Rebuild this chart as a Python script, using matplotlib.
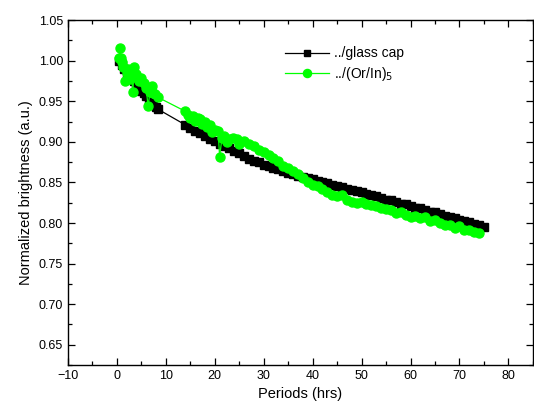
import matplotlib
matplotlib.use("Agg")
import matplotlib.pyplot as plt
from matplotlib.ticker import MultipleLocator

plt.rcParams["font.family"] = ["Liberation Sans", "DejaVu Sans"]

# ../glass cap  (black squares)
glass_t = [0.5, 1.0, 1.5, 2.0, 2.5, 3.0, 3.5, 4.0, 4.5, 5.0, 5.5, 6.0, 6.5, 7.0, 7.5, 8.0, 8.5,
           14, 15, 16, 17, 18, 19, 20, 21, 22, 23, 24, 25, 26, 27, 28, 29, 30,
           31, 32, 33, 34, 35, 36, 37, 38, 39, 40, 41, 42, 43, 44, 45, 46, 47, 48, 49, 50,
           51, 52, 53, 54, 55, 56, 57, 58, 59, 60, 61, 62, 63, 64, 65, 66, 67, 68, 69, 70,
           71, 72, 73, 74, 75]
glass_b = [1.000, 0.995, 0.990, 0.985, 0.982, 0.978, 0.975, 0.970, 0.967, 0.963, 0.960, 0.956,
           0.953, 0.950, 0.947, 0.943, 0.940,
           0.921, 0.917, 0.914, 0.911, 0.907, 0.904, 0.901, 0.898, 0.895, 0.892, 0.889, 0.886,
           0.883, 0.879, 0.877, 0.875, 0.872,
           0.870, 0.868, 0.866, 0.864, 0.862, 0.860, 0.858, 0.857, 0.855, 0.854, 0.852, 0.850,
           0.849, 0.847, 0.846, 0.844, 0.842, 0.841, 0.839, 0.838,
           0.836, 0.834, 0.833, 0.831, 0.829, 0.828, 0.826, 0.824, 0.823, 0.821, 0.819, 0.818,
           0.816, 0.814, 0.813, 0.811, 0.809, 0.808, 0.806, 0.804,
           0.802, 0.801, 0.799, 0.797, 0.795]

# ../(Or/In)5  (green circles)
orin_t = [0.5, 0.6, 0.8, 1.0, 1.3, 1.6, 2.0, 2.3, 2.6, 3.0, 3.3, 3.5, 4.0, 4.5, 5.0, 5.5, 6.0,
          6.4, 6.8, 7.1, 7.5, 7.8, 8.4,
          13.9, 14.5, 15.0, 15.5, 16.0, 16.5, 17.0, 17.5, 18.0, 18.5, 19.0, 19.5, 20.0, 20.7,
          21.0, 21.5, 22.0, 22.5, 23.0, 23.7, 24.5, 25, 26, 27, 28, 29, 30,
          31, 32, 33, 34, 35, 36, 37, 38, 39, 40, 41, 42, 43, 44, 45, 46, 47, 48, 49, 50,
          51, 52, 53, 54, 55, 56, 57, 58, 59, 60, 61, 62, 63, 64, 65, 66, 67, 68, 69, 70,
          71, 72, 73, 74]
orin_b = [1.003, 1.016, 1.004, 0.998, 0.992, 0.975, 0.985, 0.990, 0.978, 0.985, 0.961, 0.992,
          0.984, 0.975, 0.979, 0.972, 0.966, 0.944, 0.962, 0.969, 0.960, 0.959, 0.955,
          0.938, 0.933, 0.930, 0.932, 0.926, 0.929, 0.928, 0.922, 0.925, 0.918, 0.921, 0.912,
          0.915, 0.913, 0.882, 0.905, 0.907, 0.900, 0.903, 0.905, 0.903, 0.898, 0.901, 0.897,
          0.895, 0.890, 0.887,
          0.884, 0.880, 0.876, 0.870, 0.868, 0.864, 0.860, 0.856, 0.851, 0.847, 0.846, 0.842,
          0.838, 0.835, 0.833, 0.834, 0.829, 0.826, 0.825, 0.826,
          0.824, 0.822, 0.821, 0.818, 0.817, 0.816, 0.812, 0.814, 0.810, 0.808, 0.809, 0.806,
          0.807, 0.803, 0.804, 0.800, 0.797, 0.798, 0.794, 0.796,
          0.792, 0.791, 0.789, 0.788]

fig = plt.figure(figsize=(5.34, 4.12), dpi=100)
ax = fig.add_axes([0.127, 0.114, 0.871, 0.837])

ax.plot(glass_t, glass_b, color="black", lw=0.9, marker="s", ms=5.5,
        mec="black", mfc="black", label="../glass cap")
ax.plot(orin_t, orin_b, color="#00ff00", lw=0.9, marker="o", ms=6.5,
        mec="#00ff00", mfc="#00ff00", label="../(Or/In)$_5$")

ax.set_xlim(-10, 85)
ax.set_ylim(0.625, 1.05)
ax.xaxis.set_major_locator(MultipleLocator(10))
ax.xaxis.set_minor_locator(MultipleLocator(5))
ax.yaxis.set_major_locator(MultipleLocator(0.05))
ax.yaxis.set_minor_locator(MultipleLocator(0.025))
ax.yaxis.set_major_formatter(plt.FormatStrFormatter("%.2f"))
ax.tick_params(which="both", direction="in", top=True, right=True, labelsize=9)
ax.tick_params(which="major", length=5, width=0.9)
ax.tick_params(which="minor", length=3, width=0.9)
for s in ax.spines.values():
    s.set_linewidth(1.0)

ax.set_xlabel("Periods (hrs)", fontsize=10.5)
ax.set_ylabel("Normalized brightness (a.u.)", fontsize=10.5)

ax.legend(loc="upper left", bbox_to_anchor=(0.44, 0.96), frameon=False,
          fontsize=10, handlelength=3.2, handletextpad=0.3, labelspacing=0.3,
          markerscale=0.9)

fig.savefig("out.png", dpi=100)
